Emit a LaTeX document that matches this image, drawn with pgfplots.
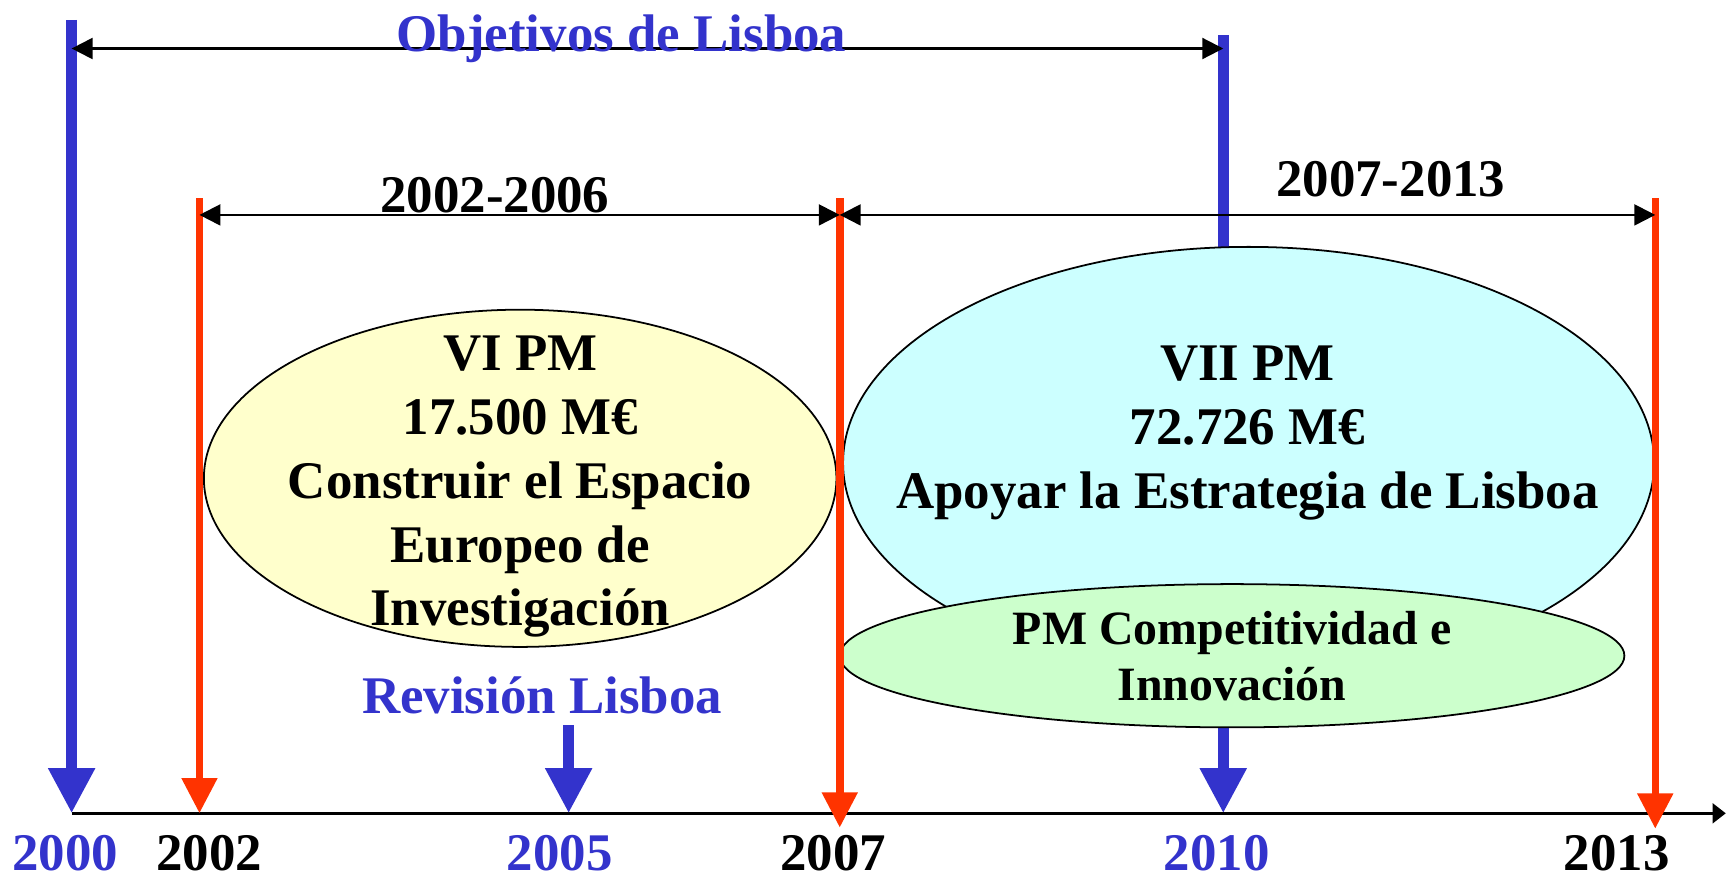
\documentclass[border=0pt]{standalone}
\usepackage{pgfplots}
\pgfplotsset{compat=1.18}
\usepackage{fontspec}
\setmainfont{Liberation Serif}
\usetikzlibrary{arrows.meta}
\definecolor{lblue}{HTML}{3333CC}
\definecolor{lred}{HTML}{FF3300}
\definecolor{fyellow}{HTML}{FFFFCC}
\definecolor{fcyan}{HTML}{CCFFFF}
\definecolor{fgreen}{HTML}{CCFFCC}
\tikzset{
  lbl/.style={inner sep=0pt, anchor=base, font=\fontsize{12}{14.5}\selectfont\bfseries},
  sml/.style={inner sep=0pt, anchor=base, font=\fontsize{10.85}{13}\selectfont\bfseries},
  bigarrow/.style={lblue, line width=2.5pt, -{Triangle[length=10.25pt,width=10pt]}},
  redarrow/.style={lred, line width=1.7pt, -{Triangle[length=8pt,width=7.75pt]}},
  dim/.style={black, line width=0.5pt, {Triangle[length=4.75pt,width=4.75pt]}-{Triangle[length=4.75pt,width=4.75pt]}}
}
\begin{document}
\begin{tikzpicture}
\begin{axis}[scale only axis, width=392pt, height=199pt,
  xmin=0, xmax=1568, ymin=0, ymax=796, y dir=reverse,
  hide axis, clip=false]
% frame (invisible) to fix the picture size
\addplot[draw=none] coordinates {(0,0) (1568,797)};
% 2010 blue line behind the ellipses
\addplot[bigarrow] coordinates {(1110,32) (1110,738)};
% ellipses
\draw[fill=fyellow, line width=0.4pt] (axis cs:472,434) ellipse [x radius=71.75pt, y radius=38.25pt];
\draw[fill=fcyan, line width=0.4pt] (axis cs:1133,420) ellipse [x radius=92pt, y radius=49pt];
\draw[fill=fgreen, line width=0.4pt] (axis cs:1118,595) ellipse [x radius=89pt, y radius=16.25pt];
% baseline
\addplot[black, line width=0.6pt, -{Triangle[length=3pt,width=4.5pt]}] coordinates {(65,738) (1566,738)};
% blue arrows 2000, 2005
\addplot[bigarrow] coordinates {(65,18) (65,738)};
\addplot[bigarrow] coordinates {(516,658) (516,738)};
% red arrows 2002, 2007, 2013
\addplot[redarrow] coordinates {(181,180) (181,738)};
\addplot[redarrow] coordinates {(762,180) (762,751)};
\addplot[redarrow] coordinates {(1502,180) (1502,752)};
% dimension arrows
\addplot[dim] coordinates {(65,44) (1110,44)};
\addplot[dim] coordinates {(181,195) (762,195)};
\addplot[dim] coordinates {(762,195) (1502,195)};
% texts
\node[lbl, text=lblue] at (axis cs:564,47) {Objetivos de Lisboa};
\node[lbl] at (axis cs:449,193) {2002-2006};
\node[lbl] at (axis cs:1262,178) {2007-2013};
\node[lbl, text=lblue] at (axis cs:492,647) {Revisión Lisboa};
% VI PM
\node[lbl] at (axis cs:472,336) {VI PM};
\node[lbl] at (axis cs:472,394) {17.500 M€};
\node[lbl] at (axis cs:472,452) {Construir el Espacio};
\node[lbl] at (axis cs:472,510) {Europeo de};
\node[lbl] at (axis cs:472,568) {Investigación};
% VII PM
\node[lbl] at (axis cs:1132,345) {VII PM};
\node[lbl] at (axis cs:1132,403) {72.726 M€};
\node[lbl] at (axis cs:1132,461) {Apoyar la Estrategia de Lisboa};
% CIP
\node[sml] at (axis cs:1118,585) {PM Competitividad e};
\node[sml] at (axis cs:1118,636) {Innovación};
% years
\node[lbl, text=lblue] at (axis cs:59,790) {2000};
\node[lbl] at (axis cs:190,790) {2002};
\node[lbl, text=lblue] at (axis cs:508,790) {2005};
\node[lbl] at (axis cs:756,790) {2007};
\node[lbl, text=lblue] at (axis cs:1104,790) {2010};
\node[lbl] at (axis cs:1467,790) {2013};
\end{axis}
\end{tikzpicture}
\end{document}
